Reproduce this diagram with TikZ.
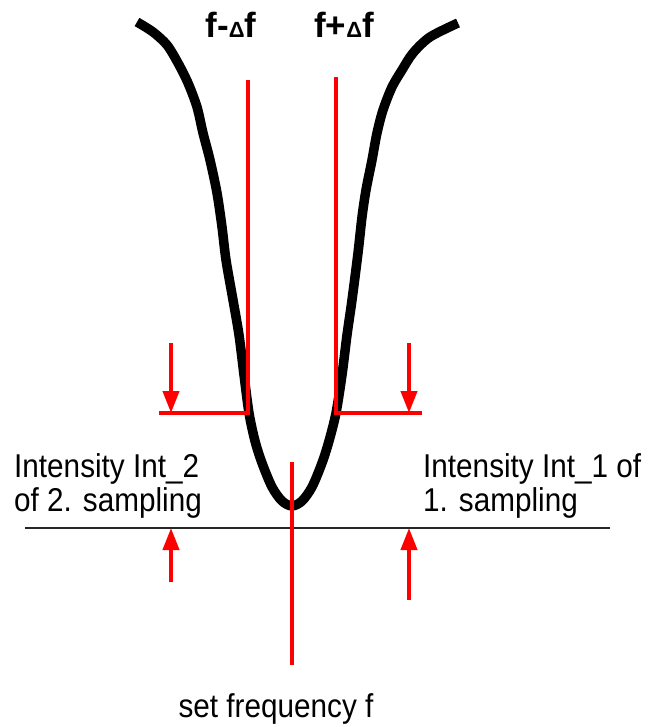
\documentclass[tikz,border=0pt]{standalone}
\usepackage{fontspec}
\setmainfont{Liberation Sans}
\newfontfamily\lblfont[FakeStretch=0.9]{Liberation Sans}
\usetikzlibrary{arrows.meta}

\begin{document}
\begin{tikzpicture}
                    [x=1pt, y=-1pt, >={Triangle[width=16pt,length=22pt]},
                     every node/.style={inner sep=0pt},
                     lbl/.style={font=\lblfont\fontsize{33}{34}\selectfont, align=left},
                     dlbl/.style={font=\bfseries\fontsize{35}{35}\selectfont},
                     redline/.style={red, line width=4.5pt},
                     curve/.style={black, line width=9.5pt, line join=round}]
                    \useasboundingbox (0,0) rectangle (647,727);
                    % labels
                    \node[dlbl, anchor=base] (fm) at (231,38) {f-{\fontsize{22}{22}\selectfont Δ}f};
                    \node[dlbl, anchor=base] (fp) at (344,38) {f+{\fontsize{22}{22}\selectfont Δ}f};
                    \node[lbl, anchor=north west] (int2) at (14,453) {Intensity Int\_2\\of 2. sampling};
                    \node[lbl, anchor=north west] (int1) at (423,453) {Intensity Int\_1 of\\1. sampling};
                    \node[lbl, anchor=base] (setf) at (276,717) {set frequency f};
                    % resonance curve
                    \draw[curve] plot[smooth, tension=0.5] coordinates {(137,22) (153,32) (167,45) (178,63)
                        (188,83) (197,107) (203,133) (210,160) (217,193) (222,227) (226,260) (233,300)
                        (239,335) (244,375) (249,413) (255,441) (262,463) (272,487) (282,501) (292,506)
                        (302,501) (312,487) (322,463) (329,441) (336,413) (342,375) (347,335) (352,300)
                        (358,253) (362,217) (366,190) (372,160) (377,133) (383,110) (392,87) (402,70)
                        (413,53) (430,37) (458,23)};
                    % base line
                    \coordinate (bl) at (25,528);
                    \coordinate (br) at (610,528);
                    \draw[black!85, line width=1.2pt] (bl) -- (br);
                    % sampling frequencies
                    \coordinate (mtop) at (248,80);
                    \coordinate (mcor) at (248,413);
                    \coordinate (mend) at (159,413);
                    \coordinate (ptop) at (336,77);
                    \coordinate (pcor) at (336,413);
                    \coordinate (pend) at (422,413);
                    \draw[redline] (mtop) -- (mcor) -- (mend);
                    \draw[redline] (ptop) -- (pcor) -- (pend);
                    \coordinate (ctop) at (292,462);
                    \coordinate (cbot) at (292,665);
                    \draw[redline] (ctop) -- (cbot);
                    % intensity arrows
                    \coordinate (a2t) at (171,343);
                    \coordinate (a2b) at (171,413);
                    \coordinate (a1t) at (409,343);
                    \coordinate (a1b) at (409,413);
                    \coordinate (b2t) at (171,528);
                    \coordinate (b2b) at (171,582);
                    \coordinate (b1t) at (409,528);
                    \coordinate (b1b) at (409,600);
                    \draw[->, red, line width=4pt] (a2t) -- (a2b);
                    \draw[->, red, line width=4pt] (a1t) -- (a1b);
                    \draw[->, red, line width=4pt] (b2b) -- (b2t);
                    \draw[->, red, line width=4pt] (b1b) -- (b1t);
                \end{tikzpicture}
\end{document}
